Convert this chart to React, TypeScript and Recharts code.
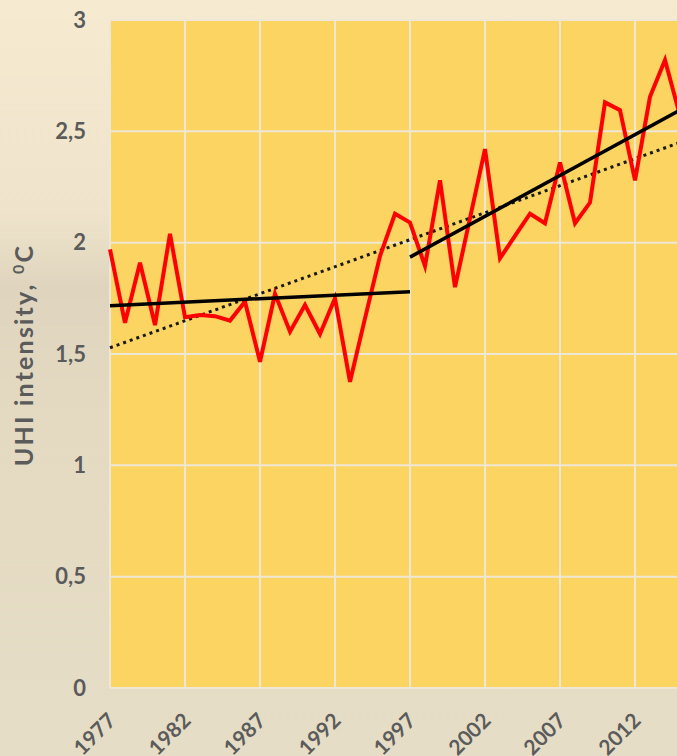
import React from 'react';
import { LineChart, Line, XAxis, YAxis, CartesianGrid, Label } from 'recharts';

const YEARS = [
  1977, 1978, 1979, 1980, 1981, 1982, 1983, 1984, 1985, 1986,
  1987, 1988, 1989, 1990, 1991, 1992, 1993, 1994, 1995, 1996,
  1997, 1998, 1999, 2000, 2001, 2002, 2003, 2004, 2005, 2006,
  2007, 2008, 2009, 2010, 2011, 2012, 2013, 2014, 2015,
];

const UHI = [
  1.97, 1.64, 1.91, 1.63, 2.04, 1.665, 1.675, 1.67, 1.65, 1.735,
  1.465, 1.77, 1.6, 1.72, 1.59, 1.75, 1.375, 1.66, 1.94, 2.13,
  2.09, 1.895, 2.28, 1.8, 2.11, 2.42, 1.93, 2.03, 2.13, 2.087,
  2.36, 2.087, 2.18, 2.63, 2.595, 2.28, 2.655, 2.82, 2.57,
];

// trend lines: [year, value] end points
const TREND_EARLY: [number, number][] = [[1977, 1.717], [1997, 1.78]];
const TREND_LATE: [number, number][] = [[1997, 1.935], [2015, 2.595]];
const TREND_ALL: [number, number][] = [[1977, 1.528], [2015, 2.45]];

const X_TICKS = [1977, 1982, 1987, 1992, 1997, 2002, 2007, 2012];
const Y_TICKS = [0, 0.5, 1, 1.5, 2, 2.5, 3];

const pick = (pts: [number, number][], year: number) => {
  const p = pts.find(d => d[0] === year);
  return p ? p[1] : null;
};

const data = YEARS.map((year, i) => ({
  year,
  uhi: UHI[i],
  early: pick(TREND_EARLY, year),
  late: pick(TREND_LATE, year),
  all: pick(TREND_ALL, year),
}));

const FONT = 'Lato, "Open Sans", sans-serif';
const GREY = '#5b5b5b';

const XTick = (props: any) => {
  const { x, y, payload } = props;
  const ax = x + 7;
  const ay = y + 34;
  return (
    <text
      x={ax}
      y={ay}
      textAnchor="end"
      transform={`rotate(-45, ${ax}, ${ay})`}
      fill={GREY}
      fontFamily={FONT}
      fontWeight={700}
      fontSize={21}
    >
      {payload.value}
    </text>
  );
};

const AxisTitle = () => (
  <text
    x={33}
    y={355}
    textAnchor="middle"
    transform="rotate(-90, 33, 355)"
    fill={GREY}
    fontFamily={FONT}
    fontWeight={700}
    fontSize={25}
    letterSpacing={2.2}
  >
    UHI intensity,{' '}
    <tspan dy={-9} fontSize={16}>0</tspan>
    <tspan dy={9}>C</tspan>
  </text>
);

export default function App() {
  return (
    <div
      style={{
        position: 'absolute',
        left: 0,
        top: 0,
        width: 677,
        height: 756,
        overflow: 'hidden',
        background:
          'linear-gradient(180deg, #F6EAD1 0%, #EFE4CB 28%, #DFD5BE 38%, #E4DAC2 55%, #E6DDC6 100%)',
      }}
    >
      <LineChart
        width={700}
        height={756}
        data={data}
        margin={{ top: 20, right: 20, left: 0, bottom: 8 }}
      >
        <CartesianGrid
          fill="#FBD462"
          fillOpacity={1}
          stroke="#EFE7D6"
          strokeWidth={2}
        />
        <XAxis
          dataKey="year"
          type="number"
          domain={[1977, 2015]}
          ticks={X_TICKS}
          interval={0}
          height={60}
          axisLine={false}
          tickLine={false}
          tickSize={0}
          tickMargin={0}
          tick={<XTick />}
        />
        <YAxis
          type="number"
          domain={[0, 3]}
          ticks={Y_TICKS}
          width={110}
          axisLine={false}
          tickLine={false}
          tickSize={6}
          tickMargin={18}
          tickFormatter={(v: number) => String(v).replace('.', ',')}
          tick={{ fill: GREY, fontFamily: FONT, fontWeight: 700, fontSize: 22 }}
        >
          <Label content={<AxisTitle />} />
        </YAxis>
        <Line
          dataKey="all"
          stroke="#1a1a1a"
          strokeWidth={3}
          strokeDasharray="3 4"
          dot={false}
          connectNulls
          isAnimationActive={false}
        />
        <Line
          dataKey="uhi"
          stroke="#FF0000"
          strokeWidth={4}
          strokeLinejoin="miter"
          dot={false}
          isAnimationActive={false}
        />
        <Line
          dataKey="early"
          stroke="#000000"
          strokeWidth={3.5}
          dot={false}
          connectNulls
          isAnimationActive={false}
        />
        <Line
          dataKey="late"
          stroke="#000000"
          strokeWidth={3.5}
          dot={false}
          connectNulls
          isAnimationActive={false}
        />
      </LineChart>
    </div>
  );
}
